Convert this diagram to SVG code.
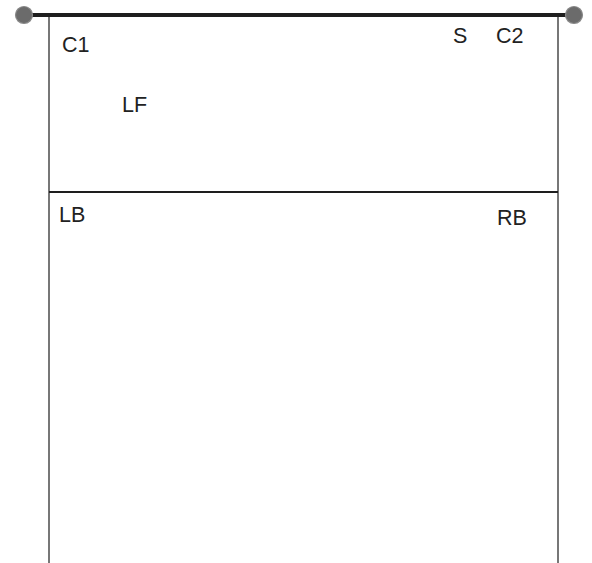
<svg xmlns="http://www.w3.org/2000/svg" width="592" height="563" viewBox="0 0 592 563">
<style>
.lbl{font-family:"Liberation Sans",Arial,sans-serif;font-size:21.5px;fill:#222}
.wall{stroke:#555;stroke-width:1.6;fill:none}
.bar{stroke:#1e1e1e;fill:none}
.post{fill:#6b6b6b;stroke:#8a8a8a;stroke-width:1.2}
</style>
<rect width="592" height="563" fill="#fff"/>
<g id="connectors">
<line class="wall" x1="49" y1="15" x2="49" y2="563"/>
<line class="wall" x1="558" y1="15" x2="558" y2="563"/>
<line class="bar" x1="49" y1="192" x2="558" y2="192" stroke-width="2.2"/>
<line class="bar" x1="24" y1="15" x2="574" y2="15" stroke-width="4"/>
</g>
<g id="post-left"><circle class="post" cx="24" cy="15" r="8.5"/></g>
<g id="post-right"><circle class="post" cx="574" cy="15" r="8.5"/></g>
<g id="C1"><text class="lbl" x="62" y="52">C1</text></g>
<g id="S"><text class="lbl" x="453" y="43">S</text></g>
<g id="C2"><text class="lbl" x="496" y="43">C2</text></g>
<g id="LF"><text class="lbl" x="122" y="112">LF</text></g>
<g id="LB"><text class="lbl" x="59" y="222">LB</text></g>
<g id="RB"><text class="lbl" x="497" y="225">RB</text></g>
</svg>
